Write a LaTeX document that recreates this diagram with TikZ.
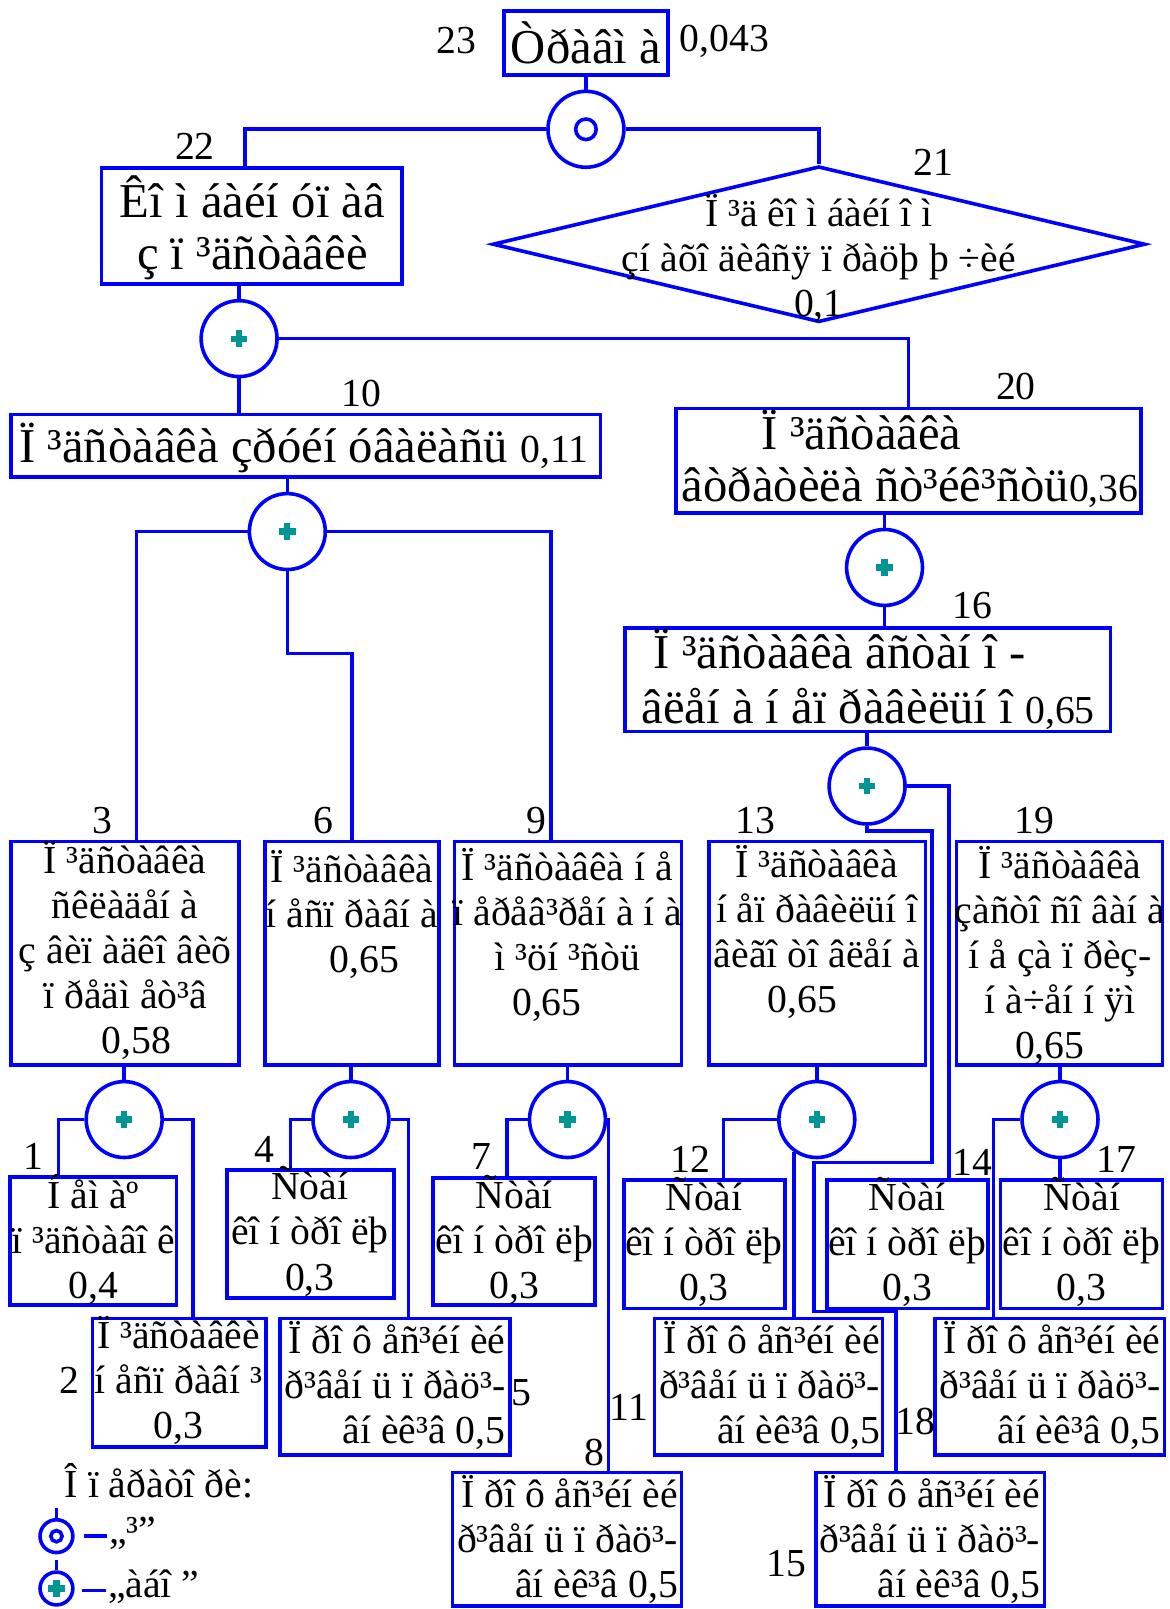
\documentclass[tikz,border=0pt]{standalone}
\usepackage{fontspec}
\setmainfont{Liberation Serif}
\usetikzlibrary{positioning,fit,shapes.geometric}

\definecolor{plusteal}{RGB}{0,150,150}
\newcommand{\smallnum}[1]{{\fontsize{22}{25}\selectfont #1}}

\tikzset{
  link/.style={draw=blue, line width=2pt},
  box/.style={draw=blue, line width=2pt, inner sep=0pt},
  txt/.style={align=center, inner sep=0pt, font=\fontsize{22}{25}\selectfont},
  bigtxt/.style={txt, font=\fontsize{27}{28.5}\selectfont},
  num/.style={inner sep=0pt, font=\fontsize{22}{25}\selectfont},
  gate/.style={circle, draw=blue, fill=white, line width=2pt, minimum size=1.48cm, inner sep=0pt},
  plus/.style={path picture={
      \fill[plusteal] ([shift={(-0.16cm,-0.06cm)}]path picture bounding box.center) rectangle ++(0.32cm,0.12cm);
      \fill[plusteal] ([shift={(-0.06cm,-0.16cm)}]path picture bounding box.center) rectangle ++(0.12cm,0.32cm);}},
  orgate/.style={gate, plus},
  andgate/.style={gate, path picture={\draw[blue, line width=2pt] (path picture bounding box.center) circle[radius=0.2cm];}},
}

\begin{document}
\begin{tikzpicture}[x=0.02cm, y=-0.02cm]

\useasboundingbox (0,0) rectangle (1140,1568);

% boxes
\node[box, fit={(491,11) (651,73)}] (b23) {};
\node[box, fit={(99,164) (392,277)}] (b22) {};
\node[diamond, draw=blue, line width=2pt, inner sep=0pt, minimum width=12.72cm, minimum height=3.04cm] (d21) at (798,238) {};
\node[box, fit={(11,404) (585,465)}] (b10) {};
\node[box, fit={(659,398) (1112,500)}] (b20) {};
\node[box, fit={(609,612) (1082,713)}] (b16) {};
\node[box, fit={(11,820) (233,1038)}] (b3) {};
\node[box, fit={(258,820) (428,1038)}] (b6) {};
\node[box, fit={(443,820) (664,1038)}] (b9) {};
\node[box, fit={(691,820) (902,1038)}] (b13) {};
\node[box, fit={(932,820) (1133,1038)}] (b19) {};
\node[box, fit={(10,1147) (172,1272)}] (b1) {};
\node[box, fit={(90,1285) (259,1410)}] (b2) {};
\node[box, fit={(221,1140) (384,1265)}] (b4) {};
\node[box, fit={(273,1285) (497,1418)}] (b5) {};
\node[box, fit={(422,1148) (580,1272)}] (b7) {};
\node[box, fit={(441,1435) (664,1565)}] (b8) {};
\node[box, fit={(608,1150) (765,1275)}] (b12) {};
\node[box, fit={(638,1285) (860,1418)}] (b11) {};
\node[box, fit={(806,1150) (963,1275)}] (b14) {};
\node[box, fit={(795,1435) (1018,1565)}] (b15) {};
\node[box, fit={(975,1150) (1133,1275)}] (b17) {};
\node[box, fit={(911,1285) (1135,1418)}] (b18) {};

% gates
\node[andgate] (g23) at (571,126) {};
\node[orgate] (g22) at (233,330) {};
\node[orgate] (g20) at (862,553) {};
\node[orgate] (g16) at (845,766) {};
\node[orgate] (g10) at (280,518) {};
\node[orgate] (g3) at (121,1091) {};
\node[orgate] (g6) at (342,1091) {};
\node[orgate] (g9) at (553,1091) {};
\node[orgate] (g13) at (796,1091) {};
\node[orgate] (g19) at (1033,1091) {};

% connectors
\draw[link] (b23.south) -- (g23.north);
\draw[link] (g23.west) -| (b22.north -| 239,0);
\draw[link] (g23.east) -| (d21.north);
\draw[link] (b22.south -| g22.north) -- (g22.north);
\draw[link] (g22.east) -| (b20.north);
\draw[link] (g22.south) -- (b10.north -| g22.south);
\draw[link] (b10.south -| g10.north) -- (g10.north);
\draw[link] (g10.west) -| (b3.north -| 133,0);
\draw[link] (g10.south) -- (280,637) -| (b6.north);
\draw[link] (g10.east) -| (b9.north -| 537,0);
\draw[link] (b20.south -| g20.north) -- (g20.north);
\draw[link] (g20.south) -- (b16.north -| g20.south);
\draw[link] (b16.south -| g16.north) -- (g16.north);
\draw[link] (g16.east) -| (b14.north -| 925,0);
\draw[link] (g16.south) -- (845,810) -| (908,1133) -| (793,1278) -| (b15.north -| 873,0);
\draw[link] (b3.south -| g3.north) -- (g3.north);
\draw[link] (g3.west) -| (b1.north -| 57,0);
\draw[link] (g3.east) -| (b2.north -| 188,0);
\draw[link] (b6.south -| g6.north) -- (g6.north);
\draw[link] (g6.west) -| (b4.north -| 283,0);
\draw[link] (g6.east) -| (b5.north -| 398,0);
\draw[link] (b9.south -| g9.north) -- (g9.north);
\draw[link] (g9.west) -| (b7.north -| 494,0);
\draw[link] (g9.east) -| (b8.north -| 593,0);
\draw[link] (b13.south -| g13.north) -- (g13.north);
\draw[link] (g13.west) -| (b12.north -| 705,0);
\draw[link] (g13.235) -- (g13.235 |- b11.north);
\draw[link] (b19.south -| g19.north) -- (g19.north);
\draw[link] (g19.west) -| (b18.north -| 968,0);
\draw[link] (g19.south) -- (b17.north -| g19.south);

% texts
\node[bigtxt] (t23) at (571,42) {Òðàâì à};
\node[bigtxt] (t22) at (246,222) {Êî ì áàéí  óï àâ\\ç ï ³äñòàâêè};
\node[txt] (t21) at (798,252) {Ï ³ä êî ì áàéí î ì\\çí àõî äèâñÿ ï ðàöþ þ ÷èé\\0,1};
\node[bigtxt] (t10) at (296,437) {Ï ³äñòàâêà çðóéí óâàëàñü \smallnum{0,11}};
\node[bigtxt, align=left] (t20) at (887,447) {\hspace*{1.56cm}Ï ³äñòàâêà\\âòðàòèëà ñò³éê³ñòü\smallnum{0,36}};
\node[bigtxt, align=left, font=\fontsize{27}{30}\selectfont] (t16) at (846,662) {\hspace*{0.24cm}Ï ³äñòàâêà âñòàí î -\\âëåí à í åï ðàâèëüí î \smallnum{0,65}};
\node[txt] (t3) at (122,926) {Ï ³äñòàâêà\\ñêëàäåí à\\ç âèï àäêî âèõ\\ï ðåäì åò³â\\\hspace*{0.44cm}0,58};
\node[txt] (t6) at (343,891) {Ï ³äñòàâêà\\í åñï ðàâí à\\\hspace*{0.48cm}0,65};
\node[txt] (t9) at (553,911) {Ï ³äñòàâêà í å\\ï åðåâ³ðåí à í à\\ì ³öí ³ñòü\\0,65\hspace*{0.8cm}};
\node[txt] (t13) at (796,908) {Ï ³äñòàâêà\\í åï ðàâèëüí î\\âèãî òî âëåí à\\0,65\hspace*{0.56cm}};
\node[txt] (t19) at (1033,931) {Ï ³äñòàâêà\\çàñòî ñî âàí à\\í å çà ï ðèç-\\í à÷åí í ÿì\\0,65\hspace*{0.4cm}};
\node[txt] (t1) at (91,1208) {Í åì  àº\\ï ³äñòàâî ê\\0,4};
\node[txt] (t2) at (174,1345) {Ï ³äñòàâêè\\í åñï ðàâí ³\\0,3};
\node[txt] (t4) at (302,1200) {Ñòàí\\êî í òðî ëþ\\0,3};
\node[txt] (t7) at (501,1208) {Ñòàí\\êî í òðî ëþ\\0,3};
\node[txt] (t12) at (686,1210) {Ñòàí\\êî í òðî ëþ\\0,3};
\node[txt] (t14) at (884,1210) {Ñòàí\\êî í òðî ëþ\\0,3};
\node[txt] (t17) at (1054,1210) {Ñòàí\\êî í òðî ëþ\\0,3};
\node[txt, align=right] (t5) at (385,1350) {Ï ðî ô åñ³éí èé\\ð³âåí ü ï ðàö³-\\âí èê³â 0,5};
\node[txt, align=right] (t11) at (750,1350) {Ï ðî ô åñ³éí èé\\ð³âåí ü ï ðàö³-\\âí èê³â 0,5};
\node[txt, align=right] (t18) at (1023,1350) {Ï ðî ô åñ³éí èé\\ð³âåí ü ï ðàö³-\\âí èê³â 0,5};
\node[txt, align=right] (t8) at (553,1500) {Ï ðî ô åñ³éí èé\\ð³âåí ü ï ðàö³-\\âí èê³â 0,5};
\node[txt, align=right] (t15) at (906,1500) {Ï ðî ô åñ³éí èé\\ð³âåí ü ï ðàö³-\\âí èê³â 0,5};

% numbers
\node[num] (n23) at (445,40) {23};
\node[num] (p23) at (706,40) {0,043};
\node[num] (n22) at (190,143) {22};
\node[num] (n21) at (910,158) {21};
\node[num] (n10) at (352,383) {10};
\node[num] (n20) at (990,377) {20};
\node[num] (n16) at (948,590) {16};
\node[num] (n3) at (100,800) {3};
\node[num] (n6) at (315,800) {6};
\node[num] (n9) at (523,800) {9};
\node[num] (n13) at (736,800) {13};
\node[num] (n19) at (1008,800) {19};
\node[num] (n1) at (33,1127) {1};
\node[num] (n2) at (68,1345) {2};
\node[num] (n4) at (258,1120) {4};
\node[num] (n5) at (508,1357) {5};
\node[num] (n7) at (469,1127) {7};
\node[num] (n8) at (579,1415) {8};
\node[num] (n12) at (673,1130) {12};
\node[num] (n11) at (613,1372) {11};
\node[num] (n14) at (948,1133) {14};
\node[num] (n17) at (1088,1130) {17};
\node[num] (n18) at (892,1385) {18};
\node[num] (n15) at (766,1524) {15};

% legend
\node[txt] (leg) at (155,1443) {Î ï åðàòî ðè:};
\node[gate, minimum size=0.64cm, path picture={\draw[blue, line width=2pt] (path picture bounding box.center) circle[radius=0.11cm];}] (lg-and) at (55,1497) {};
\node[gate, minimum size=0.64cm, plus] (lg-or) at (55,1548) {};
\draw[link] (lg-and.north) -- ++(0,-10);
\draw[link] (lg-or.north) -- ++(0,-10);
\draw[link] (82,1497) -- (104,1497);
\draw[link] (80,1550) -- (103,1550);
\node[num, anchor=west] (lg-and-txt) at (106,1494) {„³”};
\node[num, anchor=west] (lg-or-txt) at (105,1546) {„àáî ”};

\end{tikzpicture}
\end{document}
